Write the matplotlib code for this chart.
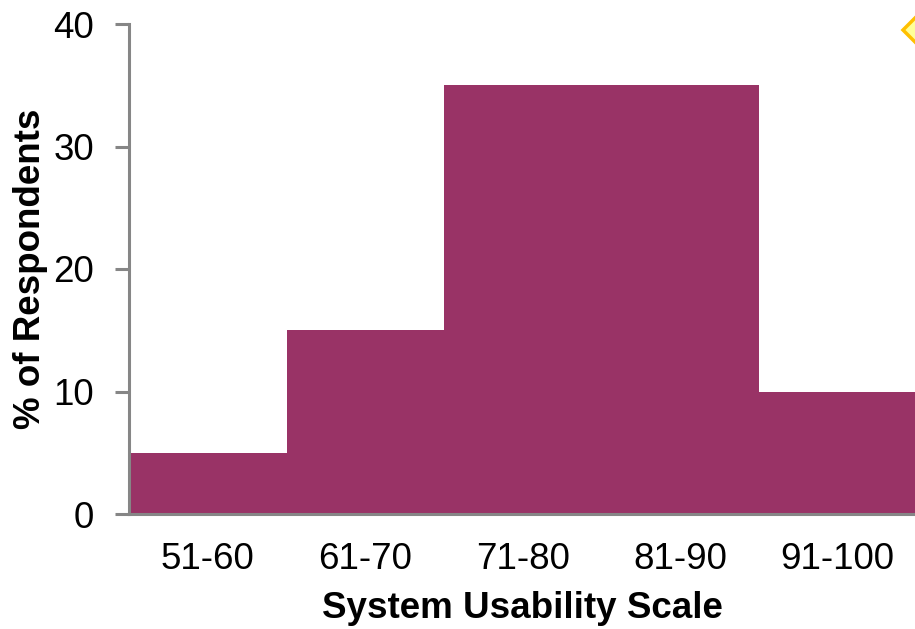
import matplotlib
matplotlib.use("Agg")
import matplotlib.pyplot as plt
from matplotlib.patches import Polygon

plt.rcParams['font.family'] = ['Liberation Sans', 'DejaVu Sans']

categories = ["51-60", "61-70", "71-80", "81-90", "91-100"]
percent = [5, 15, 35, 35, 10]
y_ticks = [0, 10, 20, 30, 40]

W, H = 915, 629
fig = plt.figure(figsize=(W / 100, H / 100), dpi=100)
ax = fig.add_axes([129 / W, (H - 514) / H, 787.5 / W, 490 / H])

x = list(range(len(categories)))
ax.bar(x, percent, width=1.0, color="#993366", edgecolor="none", zorder=2)

ax.set_xlim(-0.5, len(categories) - 0.5)
ax.set_ylim(0, 40)
ax.set_yticks(y_ticks)
ax.set_xticks(x)
ax.set_xticklabels(categories)

for side in ("top", "right"):
    ax.spines[side].set_visible(False)
for side in ("left", "bottom"):
    ax.spines[side].set_color("#868686")
    ax.spines[side].set_linewidth(2.2)
ax.spines["bottom"].set_zorder(3)

ax.tick_params(axis="y", length=10, width=2.2, color="#868686",
               labelsize=26.5, pad=15)
ax.tick_params(axis="x", length=0, labelsize=26.5, pad=20)

ax.set_xlabel("System Usability Scale", fontsize=26.5, fontweight="bold",
              labelpad=10)
ax.set_ylabel("% of Respondents", fontsize=26.5, fontweight="bold",
              labelpad=4)

# legend-style diamond marker partly cut at the top right corner
cx, cy, r = 918, 30, 15
diamond = Polygon([(cx - r, H - cy), (cx, H - cy + r), (cx + r, H - cy),
                   (cx, H - cy - r)], closed=True,
                  transform=None, facecolor="#FFFF99", edgecolor="#FFC000",
                  linewidth=2.5)
fig.patches.append(diamond)

fig.savefig("out.png", dpi=100)
